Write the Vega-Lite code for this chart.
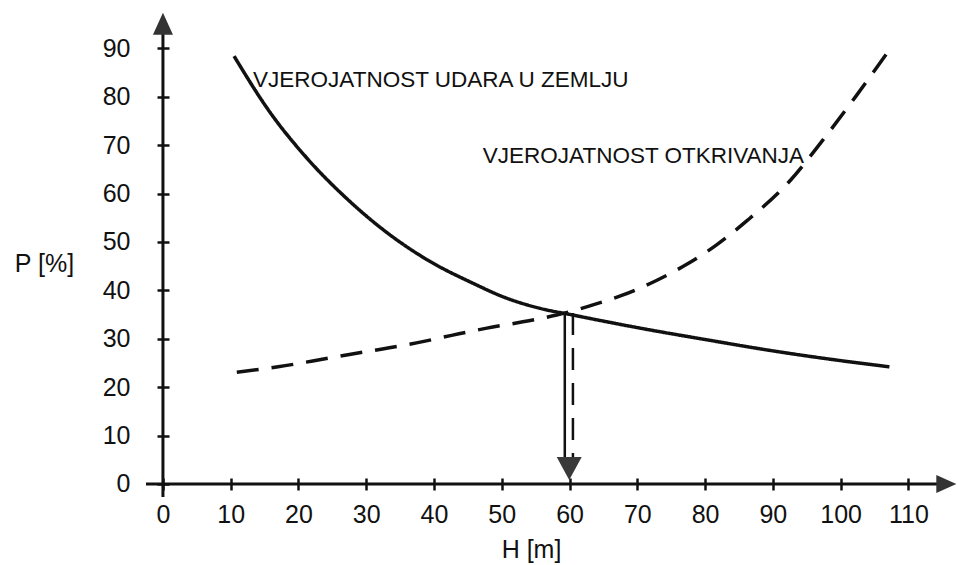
{
  "$schema": "https://vega.github.io/schema/vega-lite/v6.json",
  "autosize": {"type": "none"},
  "width": 801,
  "height": 466,
  "padding": {"left": 146, "top": 31, "right": 11, "bottom": 68},
  "background": "white",
  "config": {
    "view": {"stroke": null},
    "font": "Liberation Sans"
  },
  "encoding": {
    "x": {
      "field": "x", "type": "quantitative",
      "scale": {"domain": [-2.5, 115.7], "nice": false, "zero": false},
      "axis": {
        "values": [0, 10, 20, 30, 40, 50, 60, 70, 80, 90, 100, 110],
        "title": "H [m]",
        "domain": false, "grid": false,
        "offset": -19,
        "tickSize": 12, "tickWidth": 2.5, "tickColor": "#111",
        "labelFont": "Liberation Sans", "labelFontSize": 25, "labelColor": "#111",
        "labelPadding": 12, "labelFlush": false, "labelOverlap": false,
        "titleFont": "Liberation Sans", "titleFontSize": 25, "titleFontWeight": "normal", "titleColor": "#111",
        "titleX": 385, "titleY": 79, "titleAlign": "center", "titleBaseline": "alphabetic"
      }
    },
    "y": {
      "field": "y", "type": "quantitative",
      "scale": {"domain": [-2.7, 93.6], "nice": false, "zero": false},
      "axis": {
        "values": [0, 10, 20, 30, 40, 50, 60, 70, 80, 90],
        "title": "P [%]",
        "domain": false, "grid": false,
        "offset": -23,
        "tickSize": 12, "tickWidth": 2.5, "tickColor": "#111",
        "labelFont": "Liberation Sans", "labelFontSize": 25, "labelColor": "#111",
        "labelPadding": 27, "labelFlush": false, "labelOverlap": false,
        "titleFont": "Liberation Sans", "titleFontSize": 25, "titleFontWeight": "normal", "titleColor": "#111",
        "titleAngle": 0, "titleX": -125, "titleY": 232, "titleAlign": "center", "titleBaseline": "middle"
      }
    }
  },
  "layer": [
    {
      "data": {"values": [
        {"x": -2.5, "y": 0, "x2": 115.3, "y2": 0},
        {"x": 0, "y": -2.7, "x2": 0, "y2": 93.5}
      ]},
      "mark": {"type": "rule", "strokeWidth": 3, "color": "#111"},
      "encoding": {"x2": {"field": "x2"}, "y2": {"field": "y2"}}
    },
    {
      "data": {"values": [
        {"series": "udar", "x": 10.5, "y": 88.4},
        {"series": "udar", "x": 15.8, "y": 76.8},
        {"series": "udar", "x": 21.2, "y": 67.4},
        {"series": "udar", "x": 27.1, "y": 59.0},
        {"series": "udar", "x": 33.0, "y": 52.0},
        {"series": "udar", "x": 38.9, "y": 46.4},
        {"series": "udar", "x": 45.7, "y": 41.5},
        {"series": "udar", "x": 50.7, "y": 38.4},
        {"series": "udar", "x": 55.6, "y": 36.3},
        {"series": "udar", "x": 60.5, "y": 34.9},
        {"series": "udar", "x": 70.4, "y": 32.2},
        {"series": "udar", "x": 80.2, "y": 29.8},
        {"series": "udar", "x": 90.0, "y": 27.5},
        {"series": "udar", "x": 99.9, "y": 25.5},
        {"series": "udar", "x": 107.2, "y": 24.2},
        {"series": "otkrivanje", "x": 10.9, "y": 23.1},
        {"series": "otkrivanje", "x": 17.0, "y": 24.2},
        {"series": "otkrivanje", "x": 22.1, "y": 25.4},
        {"series": "otkrivanje", "x": 27.3, "y": 26.7},
        {"series": "otkrivanje", "x": 32.4, "y": 27.9},
        {"series": "otkrivanje", "x": 37.6, "y": 29.2},
        {"series": "otkrivanje", "x": 42.6, "y": 30.7},
        {"series": "otkrivanje", "x": 47.8, "y": 32.2},
        {"series": "otkrivanje", "x": 53.1, "y": 33.5},
        {"series": "otkrivanje", "x": 58.1, "y": 34.9},
        {"series": "otkrivanje", "x": 63.0, "y": 36.8},
        {"series": "otkrivanje", "x": 67.8, "y": 39.0},
        {"series": "otkrivanje", "x": 72.9, "y": 42.1},
        {"series": "otkrivanje", "x": 77.3, "y": 45.4},
        {"series": "otkrivanje", "x": 81.7, "y": 49.4},
        {"series": "otkrivanje", "x": 86.1, "y": 54.3},
        {"series": "otkrivanje", "x": 92.5, "y": 62.6},
        {"series": "otkrivanje", "x": 97.4, "y": 71.1},
        {"series": "otkrivanje", "x": 102.3, "y": 80.2},
        {"series": "otkrivanje", "x": 107.0, "y": 89.3}
      ]},
      "mark": {"type": "line", "interpolate": "monotone", "strokeWidth": 3.5, "color": "#111", "strokeCap": "butt"},
      "encoding": {
        "strokeDash": {
          "field": "series", "type": "nominal",
          "scale": {"domain": ["udar", "otkrivanje"], "range": [[1, 0], [22, 13]]},
          "legend": null
        }
      }
    },
    {
      "data": {"values": [
        {"kind": "solid", "x": 59.3, "y": 35.3, "y2": 3.5},
        {"kind": "dashed", "x": 60.5, "y": 35.3, "y2": 3.5}
      ]},
      "mark": {"type": "rule", "strokeWidth": 2.5, "color": "#111"},
      "encoding": {
        "y2": {"field": "y2"},
        "strokeDash": {
          "field": "kind", "type": "nominal",
          "scale": {"domain": ["solid", "dashed"], "range": [[1, 0], [16, 9]]},
          "legend": null
        }
      }
    },
    {
      "data": {"values": [{"x": 59.95, "y": 3.4}]},
      "mark": {"type": "point", "filled": true, "opacity": 1, "color": "#3a3a3a", "size": 625,
               "shape": "M0,1L-1,-0.84L1,-0.84Z"}
    },
    {
      "data": {"values": [{"x": 0, "y": 95.1}]},
      "mark": {"type": "point", "filled": true, "opacity": 1, "color": "#333", "size": 484,
               "shape": "M0,-1L0.91,1L-0.91,1Z"}
    },
    {
      "data": {"values": [{"x": 115.6, "y": 0}]},
      "mark": {"type": "point", "filled": true, "opacity": 1, "color": "#333", "size": 400,
               "shape": "M1,0L-1,-0.9L-1,0.9Z"}
    },
    {
      "data": {"values": [
        {"x": 13.3, "y": 82.0, "label": "VJEROJATNOST UDARA U ZEMLJU"},
        {"x": 47.2, "y": 66.3, "label": "VJEROJATNOST OTKRIVANJA"}
      ]},
      "mark": {"type": "text", "align": "left", "baseline": "alphabetic", "fontSize": 22.5,
               "font": "Liberation Sans", "color": "#111"},
      "encoding": {"text": {"field": "label"}}
    }
  ]
}
